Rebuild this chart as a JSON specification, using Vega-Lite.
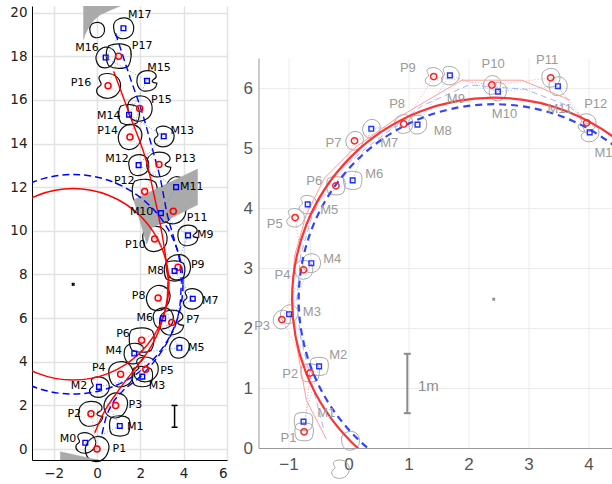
{
  "$schema": "https://vega.github.io/schema/vega-lite/v6.json",
  "padding": {"left": 9, "top": 5, "right": 0, "bottom": 0},
  "spacing": 15.5,
  "config": {"view": {"stroke": null}, "font": "DejaVu Sans"},
  "resolve": {"scale": {"x": "independent", "y": "independent", "size": "independent", "shape": "independent"}},
  "datasets": {
    "L": [
      {"id": "P1", "type": "P", "n": 1, "x": 0, "y": 0, "lx": 1.03, "ly": 0},
      {"id": "P2", "type": "P", "n": 2, "x": -0.28, "y": 1.62, "lx": -1.05, "ly": 1.62},
      {"id": "P3", "type": "P", "n": 3, "x": 0.86, "y": 2.0, "lx": 1.77, "ly": 2.0},
      {"id": "P4", "type": "P", "n": 4, "x": 1.09, "y": 3.43, "lx": 0.08, "ly": 3.7},
      {"id": "P5", "type": "P", "n": 5, "x": 2.25, "y": 3.66, "lx": 3.23, "ly": 3.6},
      {"id": "P6", "type": "P", "n": 6, "x": 2.06, "y": 4.99, "lx": 1.2, "ly": 5.27},
      {"id": "P7", "type": "P", "n": 7, "x": 3.45, "y": 5.8, "lx": 4.43, "ly": 5.9},
      {"id": "P8", "type": "P", "n": 8, "x": 2.82, "y": 6.92, "lx": 1.92, "ly": 7.0},
      {"id": "P9", "type": "P", "n": 9, "x": 3.74, "y": 8.33, "lx": 4.65, "ly": 8.42},
      {"id": "P10", "type": "P", "n": 10, "x": 2.66, "y": 9.63, "lx": 1.77, "ly": 9.34},
      {"id": "P11", "type": "P", "n": 11, "x": 3.52, "y": 10.9, "lx": 4.62, "ly": 10.58},
      {"id": "P12", "type": "P", "n": 12, "x": 2.2, "y": 11.8, "lx": 1.26, "ly": 12.28},
      {"id": "P13", "type": "P", "n": 13, "x": 2.86, "y": 13.04, "lx": 4.08, "ly": 13.27},
      {"id": "P14", "type": "P", "n": 14, "x": 1.52, "y": 14.3, "lx": 0.49, "ly": 14.59},
      {"id": "P15", "type": "P", "n": 15, "x": 1.97, "y": 15.6, "lx": 2.97, "ly": 16.0},
      {"id": "P16", "type": "P", "n": 16, "x": 0.51, "y": 16.65, "lx": -0.74, "ly": 16.77},
      {"id": "P17", "type": "P", "n": 17, "x": 1.0, "y": 18.0, "lx": 2.08, "ly": 18.46},
      {"id": "M0", "type": "M", "n": 0, "x": -0.54, "y": 0.29, "lx": -1.34, "ly": 0.46},
      {"id": "M1", "type": "M", "n": 1, "x": 1.05, "y": 1.06, "lx": 1.77, "ly": 1.01},
      {"id": "M2", "type": "M", "n": 2, "x": 0.09, "y": 2.85, "lx": -0.83, "ly": 2.89},
      {"id": "M3", "type": "M", "n": 3, "x": 2.09, "y": 3.32, "lx": 2.77, "ly": 2.91},
      {"id": "M4", "type": "M", "n": 4, "x": 1.72, "y": 4.38, "lx": 0.77, "ly": 4.49},
      {"id": "M5", "type": "M", "n": 5, "x": 3.8, "y": 4.64, "lx": 4.58, "ly": 4.61},
      {"id": "M6", "type": "M", "n": 6, "x": 3.05, "y": 5.99, "lx": 2.2, "ly": 5.99},
      {"id": "M7", "type": "M", "n": 7, "x": 4.42, "y": 6.89, "lx": 5.23, "ly": 6.8},
      {"id": "M8", "type": "M", "n": 8, "x": 3.58, "y": 8.16, "lx": 2.71, "ly": 8.18},
      {"id": "M9", "type": "M", "n": 9, "x": 4.2, "y": 9.79, "lx": 5.0, "ly": 9.8},
      {"id": "M10", "type": "M", "n": 10, "x": 2.95, "y": 10.81, "lx": 2.06, "ly": 10.86},
      {"id": "M11", "type": "M", "n": 11, "x": 3.65, "y": 12.0, "lx": 4.37, "ly": 11.99},
      {"id": "M12", "type": "M", "n": 12, "x": 1.92, "y": 13.01, "lx": 0.92, "ly": 13.27},
      {"id": "M13", "type": "M", "n": 13, "x": 3.08, "y": 14.33, "lx": 3.94, "ly": 14.59},
      {"id": "M14", "type": "M", "n": 14, "x": 1.48, "y": 15.32, "lx": 0.54, "ly": 15.26},
      {"id": "M15", "type": "M", "n": 15, "x": 2.31, "y": 16.87, "lx": 2.86, "ly": 17.46},
      {"id": "M16", "type": "M", "n": 16, "x": 0.4, "y": 17.94, "lx": -0.46, "ly": 18.38},
      {"id": "M17", "type": "M", "n": 17, "x": 1.22, "y": 19.28, "lx": 1.97, "ly": 19.88},
      {"id": "B0", "type": "B", "n": 0, "x": 0.0, "y": 19.2}
    ],
    "LG": [
      {"poly": "a", "i": 0, "x": -0.62, "y": 20.3},
      {"poly": "a", "i": 1, "x": 1.08, "y": 20.3},
      {"poly": "a", "i": 2, "x": 0.6, "y": 20.1},
      {"poly": "a", "i": 3, "x": 0.15, "y": 19.9},
      {"poly": "a", "i": 4, "x": -0.15, "y": 19.65},
      {"poly": "a", "i": 5, "x": -0.39, "y": 19.3},
      {"poly": "a", "i": 6, "x": -0.55, "y": 19.0},
      {"poly": "a", "i": 7, "x": -0.62, "y": 18.76},
      {"poly": "b", "i": 0, "x": 1.69, "y": 11.42},
      {"poly": "b", "i": 1, "x": 4.64, "y": 12.83},
      {"poly": "b", "i": 2, "x": 4.64, "y": 11.19},
      {"poly": "b", "i": 3, "x": 2.55, "y": 10.15},
      {"poly": "b", "i": 4, "x": 2.3, "y": 9.4},
      {"poly": "c", "i": 0, "x": -1.69, "y": -0.12},
      {"poly": "c", "i": 1, "x": 0.05, "y": -0.5},
      {"poly": "c", "i": 2, "x": -1.69, "y": -0.5}
    ],
    "LT": [
      {"s": "P", "i": 0, "x": -0.1, "y": 0.75},
      {"s": "P", "i": 1, "x": 0.15, "y": 1.33},
      {"s": "P", "i": 2, "x": 0.38, "y": 1.79},
      {"s": "P", "i": 3, "x": 0.8, "y": 2.42},
      {"s": "P", "i": 4, "x": 1.23, "y": 3.01},
      {"s": "P", "i": 5, "x": 2.0, "y": 4.0},
      {"s": "P", "i": 6, "x": 2.55, "y": 4.8},
      {"s": "P", "i": 7, "x": 2.9, "y": 5.55},
      {"s": "P", "i": 8, "x": 3.12, "y": 6.3},
      {"s": "P", "i": 9, "x": 3.25, "y": 7.0},
      {"s": "P", "i": 10, "x": 3.28, "y": 7.8},
      {"s": "P", "i": 11, "x": 3.2, "y": 8.55},
      {"s": "P", "i": 12, "x": 3.07, "y": 9.45},
      {"s": "P", "i": 13, "x": 2.85, "y": 10.65},
      {"s": "P", "i": 14, "x": 2.62, "y": 11.7},
      {"s": "P", "i": 15, "x": 2.38, "y": 12.8},
      {"s": "P", "i": 16, "x": 1.55, "y": 15.2},
      {"s": "P", "i": 17, "x": 0.77, "y": 17.3},
      {"s": "M", "i": 0, "x": 0.23, "y": 0.69},
      {"s": "M", "i": 1, "x": 0.42, "y": 1.45},
      {"s": "M", "i": 2, "x": 0.65, "y": 1.98},
      {"s": "M", "i": 3, "x": 1.15, "y": 2.62},
      {"s": "M", "i": 4, "x": 2.0, "y": 3.32},
      {"s": "M", "i": 5, "x": 2.92, "y": 4.39},
      {"s": "M", "i": 6, "x": 3.4, "y": 5.2},
      {"s": "M", "i": 7, "x": 3.69, "y": 5.92},
      {"s": "M", "i": 8, "x": 3.85, "y": 6.8},
      {"s": "M", "i": 9, "x": 3.9, "y": 7.6},
      {"s": "M", "i": 10, "x": 3.84, "y": 8.4},
      {"s": "M", "i": 11, "x": 3.61, "y": 9.43},
      {"s": "M", "i": 12, "x": 3.23, "y": 10.81},
      {"s": "M", "i": 13, "x": 2.92, "y": 12.4},
      {"s": "M", "i": 14, "x": 2.61, "y": 13.56},
      {"s": "M", "i": 15, "x": 2.15, "y": 15.2},
      {"s": "M", "i": 16, "x": 1.5, "y": 17.1},
      {"s": "M", "i": 17, "x": 0.85, "y": 19.07}
    ],
    "LC": [{"x": -1.1, "y": 7.55}],
    "LS": [{"x": 3.58, "y": 1.0, "y2": 2.0}],
    "R": [
      {"id": "P1", "type": "P", "n": 1, "x": -0.74, "y": 0.27, "lx": -1.0, "ly": 0.17},
      {"id": "P2", "type": "P", "n": 2, "x": -0.64, "y": 1.25, "lx": -0.97, "ly": 1.23},
      {"id": "P3", "type": "P", "n": 3, "x": -1.11, "y": 2.14, "lx": -1.44, "ly": 2.04},
      {"id": "P4", "type": "P", "n": 4, "x": -0.75, "y": 2.97, "lx": -1.1, "ly": 2.88},
      {"id": "P5", "type": "P", "n": 5, "x": -0.89, "y": 3.84, "lx": -1.23, "ly": 3.73},
      {"id": "P6", "type": "P", "n": 6, "x": -0.21, "y": 4.37, "lx": -0.57, "ly": 4.45},
      {"id": "P7", "type": "P", "n": 7, "x": 0.1, "y": 5.12, "lx": -0.25, "ly": 5.08},
      {"id": "P8", "type": "P", "n": 8, "x": 0.92, "y": 5.4, "lx": 0.81, "ly": 5.73},
      {"id": "P9", "type": "P", "n": 9, "x": 1.42, "y": 6.19, "lx": 0.99, "ly": 6.34},
      {"id": "P10", "type": "P", "n": 10, "x": 2.39, "y": 6.05, "lx": 2.41, "ly": 6.4},
      {"id": "P11", "type": "P", "n": 11, "x": 3.37, "y": 6.17, "lx": 3.31, "ly": 6.47},
      {"id": "P12", "type": "P", "n": 12, "x": 3.97, "y": 5.42, "lx": 4.12, "ly": 5.74},
      {"id": "M1", "type": "M", "n": 1, "x": -0.75, "y": 0.44, "lx": -0.37, "ly": 0.59},
      {"id": "M2", "type": "M", "n": 2, "x": -0.49, "y": 1.36, "lx": -0.17, "ly": 1.55},
      {"id": "M3", "type": "M", "n": 3, "x": -0.99, "y": 2.23, "lx": -0.61, "ly": 2.27},
      {"id": "M4", "type": "M", "n": 4, "x": -0.62, "y": 3.08, "lx": -0.27, "ly": 3.15},
      {"id": "M5", "type": "M", "n": 5, "x": -0.68, "y": 4.06, "lx": -0.32, "ly": 3.96},
      {"id": "M6", "type": "M", "n": 6, "x": 0.07, "y": 4.46, "lx": 0.43, "ly": 4.56},
      {"id": "M7", "type": "M", "n": 7, "x": 0.38, "y": 5.32, "lx": 0.68, "ly": 5.08},
      {"id": "M8", "type": "M", "n": 8, "x": 1.15, "y": 5.39, "lx": 1.57, "ly": 5.28},
      {"id": "M9", "type": "M", "n": 9, "x": 1.69, "y": 6.21, "lx": 1.79, "ly": 5.81},
      {"id": "M10", "type": "M", "n": 10, "x": 2.49, "y": 5.94, "lx": 2.6, "ly": 5.57},
      {"id": "M11", "type": "M", "n": 11, "x": 3.49, "y": 6.03, "lx": 3.52, "ly": 5.65},
      {"id": "M12", "type": "M", "n": 12, "x": 4.02, "y": 5.26, "lx": 4.31, "ly": 4.91},
      {"id": "B1", "type": "B", "n": 0, "x": 0.03, "y": 0.12},
      {"id": "B2", "type": "B", "n": 0, "x": -0.14, "y": -0.35}
    ],
    "RT": [
      {"s": "P", "i": 0, "x": -0.37, "y": 0.15},
      {"s": "P", "i": 1, "x": -0.7, "y": 0.79},
      {"s": "P", "i": 2, "x": -0.86, "y": 1.68},
      {"s": "P", "i": 3, "x": -0.95, "y": 2.46},
      {"s": "P", "i": 4, "x": -0.9, "y": 3.2},
      {"s": "P", "i": 5, "x": -0.7, "y": 3.9},
      {"s": "P", "i": 6, "x": -0.4, "y": 4.5},
      {"s": "P", "i": 7, "x": 0.1, "y": 5.0},
      {"s": "P", "i": 8, "x": 0.78, "y": 5.48},
      {"s": "P", "i": 9, "x": 1.89, "y": 6.13},
      {"s": "P", "i": 10, "x": 2.89, "y": 6.13},
      {"s": "P", "i": 11, "x": 3.69, "y": 5.8},
      {"s": "M", "i": 0, "x": -0.42, "y": 0.34},
      {"s": "M", "i": 1, "x": -0.61, "y": 1.07},
      {"s": "M", "i": 2, "x": -0.81, "y": 1.9},
      {"s": "M", "i": 3, "x": -0.86, "y": 2.46},
      {"s": "M", "i": 4, "x": -0.8, "y": 3.2},
      {"s": "M", "i": 5, "x": -0.6, "y": 3.9},
      {"s": "M", "i": 6, "x": -0.3, "y": 4.5},
      {"s": "M", "i": 7, "x": 0.3, "y": 5.0},
      {"s": "M", "i": 8, "x": 1.22, "y": 5.7},
      {"s": "M", "i": 9, "x": 2.0, "y": 6.05},
      {"s": "M", "i": 10, "x": 2.94, "y": 5.98},
      {"s": "M", "i": 11, "x": 3.67, "y": 5.7},
      {"s": "M", "i": 12, "x": 4.11, "y": 5.34}
    ],
    "RC": [{"x": 2.42, "y": 2.48}],
    "RS": [{"x": 0.98, "y": 0.58, "y2": 1.57, "t": "1m", "lx": 1.33, "ly": 1.04}]
  },
  "hconcat": [
    {
      "width": 195,
      "height": 454,
      "layer": [
        {
          "data": {"name": "L"},
          "mark": {"type": "point", "filled": false, "color": "#111", "strokeWidth": 1.2, "opacity": 1},
          "encoding": {
            "x": {"field": "x", "type": "quantitative", "scale": {"domain": [-3, 6], "nice": false, "zero": false},
              "axis": {"title": null, "values": [-2, 0, 2, 4, 6], "format": "~g", "grid": true, "gridColor": "#e2e2e2", "gridWidth": 1.5, "ticks": false, "domainColor": "#000", "labelFont": "DejaVu Sans", "labelFontSize": 13.5, "labelColor": "#222", "labelPadding": 6}},
            "y": {"field": "y", "type": "quantitative", "scale": {"domain": [-0.5, 20.3], "nice": false, "zero": false},
              "axis": {"title": null, "values": [0, 2, 4, 6, 8, 10, 12, 14, 16, 18, 20], "format": "~g", "grid": true, "gridColor": "#e2e2e2", "gridWidth": 1.5, "ticks": false, "domainColor": "#000", "labelFont": "DejaVu Sans", "labelFontSize": 13.5, "labelColor": "#222", "labelPadding": 5}},
            "shape": {"field": "id", "type": "nominal", "legend": null, "scale": {"range": [
              "M-0.85,-0.1C-0.9,-0.65,-0.35,-0.95,0.15,-0.9C0.7,-0.85,0.95,-0.35,0.88,0.15C0.8,0.7,0.3,0.95,-0.2,0.9C-0.65,0.85,-0.82,0.4,-0.85,-0.1Z",
              "M-0.45,-0.8C0.1,-1,0.75,-0.75,0.88,-0.2C0.98,0.35,0.6,0.85,0.05,0.9C-0.5,0.95,-0.9,0.6,-0.8,0.25C-0.7,0,-0.45,0.05,-0.5,-0.15C-0.55,-0.35,-0.85,-0.6,-0.45,-0.8Z",
              "M-0.7,-0.75C-0.25,-0.95,0.45,-0.92,0.78,-0.65C0.98,-0.3,0.9,0.35,0.7,0.7C0.35,0.95,-0.35,0.92,-0.7,0.7C-0.95,0.35,-0.95,-0.5,-0.7,-0.75Z",
              "M0.85,0.2C0.8,0.75,0.2,0.95,-0.3,0.88C-0.8,0.75,-0.95,0.2,-0.85,-0.3C-0.7,-0.85,-0.1,-0.95,0.35,-0.85C0.8,-0.7,0.95,-0.35,0.6,-0.15C0.35,0,0.35,0.15,0.85,0.2Z",
              "M-0.8,0.3C-0.95,-0.2,-0.6,-0.8,-0.05,-0.9C0.5,-0.95,0.92,-0.55,0.85,-0.05C0.78,0.5,0.4,0.92,-0.1,0.9C-0.5,0.88,-0.72,0.6,-0.8,0.3Z"
            ]}},
            "size": {"field": "type", "type": "ordinal", "legend": null, "scale": {"domain": ["P", "M", "B"], "range": [780, 290, 450]}}
          }
        },
        {
          "data": {"name": "LG"},
          "mark": {"type": "line", "interpolate": "linear-closed", "fill": "#aaaaaa", "stroke": "#aaaaaa", "strokeWidth": 0.5, "clip": true},
          "encoding": {
            "x": {"field": "x", "type": "quantitative"},
            "y": {"field": "y", "type": "quantitative"},
            "detail": {"field": "poly"},
            "order": {"field": "i", "type": "quantitative"}
          }
        },
        {
          "data": {"name": "LC"},
          "mark": {"type": "point", "shape": "circle", "filled": false, "size": 36710, "color": "#ff0000", "strokeWidth": 1.5, "opacity": 1, "clip": true},
          "encoding": {"x": {"field": "x", "type": "quantitative"}, "y": {"field": "y", "type": "quantitative"}}
        },
        {
          "data": {"name": "LC"},
          "mark": {"type": "point", "shape": "circle", "filled": false, "size": 48224, "color": "#0000ff", "strokeWidth": 1.5, "strokeDash": [7, 4], "opacity": 1, "clip": true},
          "encoding": {"x": {"field": "x", "type": "quantitative"}, "y": {"field": "y", "type": "quantitative"}}
        },
        {
          "data": {"name": "L"},
          "transform": [{"filter": "datum.type == 'P'"}],
          "mark": {"type": "line", "color": "#ff8a8a", "strokeWidth": 1, "strokeDash": [1, 2]},
          "encoding": {"x": {"field": "x", "type": "quantitative"}, "y": {"field": "y", "type": "quantitative"}, "order": {"field": "n", "type": "quantitative"}}
        },
        {
          "data": {"name": "L"},
          "transform": [{"filter": "datum.type == 'M'"}],
          "mark": {"type": "line", "color": "#4da3ff", "strokeWidth": 1, "strokeDash": [1, 2]},
          "encoding": {"x": {"field": "x", "type": "quantitative"}, "y": {"field": "y", "type": "quantitative"}, "order": {"field": "n", "type": "quantitative"}}
        },
        {
          "data": {"name": "LT"},
          "transform": [{"filter": "datum.s == 'P'"}],
          "mark": {"type": "line", "color": "#ff0000", "strokeWidth": 1.4, "interpolate": "monotone"},
          "encoding": {"x": {"field": "x", "type": "quantitative"}, "y": {"field": "y", "type": "quantitative"}, "order": {"field": "i", "type": "quantitative"}}
        },
        {
          "data": {"name": "LT"},
          "transform": [{"filter": "datum.s == 'M'"}],
          "mark": {"type": "line", "color": "#0000ff", "strokeWidth": 1.4, "strokeDash": [7, 4], "interpolate": "monotone"},
          "encoding": {"x": {"field": "x", "type": "quantitative"}, "y": {"field": "y", "type": "quantitative"}, "order": {"field": "i", "type": "quantitative"}}
        },
        {
          "data": {"name": "L"},
          "transform": [{"filter": "datum.type == 'P'"}],
          "mark": {"type": "point", "shape": "circle", "filled": false, "size": 36, "color": "#ff0000", "strokeWidth": 1.5, "opacity": 1},
          "encoding": {"x": {"field": "x", "type": "quantitative"}, "y": {"field": "y", "type": "quantitative"}}
        },
        {
          "data": {"name": "L"},
          "transform": [{"filter": "datum.type == 'M'"}],
          "mark": {"type": "point", "shape": "square", "filled": false, "size": 22, "color": "#0000ff", "strokeWidth": 1.4, "opacity": 1},
          "encoding": {"x": {"field": "x", "type": "quantitative"}, "y": {"field": "y", "type": "quantitative"}}
        },
        {
          "data": {"name": "LC"},
          "mark": {"type": "point", "shape": "cross", "angle": 45, "filled": true, "size": 14, "color": "#000", "opacity": 1},
          "encoding": {"x": {"field": "x", "type": "quantitative"}, "y": {"field": "y", "type": "quantitative"}}
        },
        {
          "data": {"name": "LS"},
          "mark": {"type": "rule", "color": "#000", "strokeWidth": 1.5},
          "encoding": {"x": {"field": "x", "type": "quantitative"}, "y": {"field": "y", "type": "quantitative"}, "y2": {"field": "y2"}}
        },
        {
          "data": {"name": "LS"},
          "mark": {"type": "tick", "orient": "horizontal", "color": "#000", "size": 6, "thickness": 1.5, "opacity": 1},
          "encoding": {"x": {"field": "x", "type": "quantitative"}, "y": {"field": "y", "type": "quantitative"}}
        },
        {
          "data": {"name": "LS"},
          "mark": {"type": "tick", "orient": "horizontal", "color": "#000", "size": 6, "thickness": 1.5, "opacity": 1},
          "encoding": {"x": {"field": "x", "type": "quantitative"}, "y": {"field": "y2", "type": "quantitative"}}
        },
        {
          "data": {"name": "L"},
          "transform": [{"filter": "datum.type != 'B'"}],
          "mark": {"type": "text", "font": "DejaVu Sans", "fontSize": 11, "color": "#000", "align": "center", "baseline": "middle"},
          "encoding": {
            "x": {"field": "lx", "type": "quantitative"},
            "y": {"field": "ly", "type": "quantitative"},
            "text": {"field": "id"}
          }
        }
      ]
    },
    {
      "spacing": 14,
      "vconcat": [
        {
          "width": 360,
          "height": 33,
          "data": {"values": []},
          "mark": "point"
        },
        {
          "width": 360,
          "height": 390,
          "layer": [
            {
              "data": {"name": "R"},
              "mark": {"type": "point", "filled": false, "color": "#a8a8a8", "strokeWidth": 1, "opacity": 1},
              "encoding": {
                "x": {"field": "x", "type": "quantitative", "scale": {"domain": [-1.5, 4.5], "nice": false, "zero": false},
                  "axis": {"title": null, "values": [-1, 0, 1, 2, 3, 4], "format": "~g", "grid": true, "gridColor": "#ececec", "ticks": false, "domainColor": "#999", "labelFont": "Liberation Sans", "labelFontSize": 17, "labelColor": "#555", "labelPadding": 8}},
                "y": {"field": "y", "type": "quantitative", "scale": {"domain": [0, 6.5], "nice": false, "zero": false},
                  "axis": {"title": null, "values": [0, 1, 2, 3, 4, 5, 6], "format": "~g", "grid": true, "gridColor": "#ececec", "ticks": false, "domainColor": "#999", "labelFont": "Liberation Sans", "labelFontSize": 17, "labelColor": "#555", "labelPadding": 6}},
                "shape": {"field": "id", "type": "nominal", "legend": null, "scale": {"range": [
                  "M-0.85,-0.1C-0.9,-0.65,-0.35,-0.95,0.15,-0.9C0.7,-0.85,0.95,-0.35,0.88,0.15C0.8,0.7,0.3,0.95,-0.2,0.9C-0.65,0.85,-0.82,0.4,-0.85,-0.1Z",
                  "M-0.45,-0.8C0.1,-1,0.75,-0.75,0.88,-0.2C0.98,0.35,0.6,0.85,0.05,0.9C-0.5,0.95,-0.9,0.6,-0.8,0.25C-0.7,0,-0.45,0.05,-0.5,-0.15C-0.55,-0.35,-0.85,-0.6,-0.45,-0.8Z",
                  "M-0.7,-0.75C-0.25,-0.95,0.45,-0.92,0.78,-0.65C0.98,-0.3,0.9,0.35,0.7,0.7C0.35,0.95,-0.35,0.92,-0.7,0.7C-0.95,0.35,-0.95,-0.5,-0.7,-0.75Z",
                  "M-0.8,0.3C-0.95,-0.2,-0.6,-0.8,-0.05,-0.9C0.5,-0.95,0.92,-0.55,0.85,-0.05C0.78,0.5,0.4,0.92,-0.1,0.9C-0.5,0.88,-0.72,0.6,-0.8,0.3Z"
                ]}},
                "size": {"field": "type", "type": "ordinal", "legend": null, "scale": {"domain": ["P", "M", "B"], "range": [430, 430, 520]}}
              }
            },
            {
              "data": {"name": "R"},
              "transform": [{"filter": "datum.type == 'P'"}],
              "mark": {"type": "line", "color": "#ffaaaa", "strokeWidth": 1, "strokeDash": [1, 2]},
              "encoding": {"x": {"field": "x", "type": "quantitative"}, "y": {"field": "y", "type": "quantitative"}, "order": {"field": "n", "type": "quantitative"}}
            },
            {
              "data": {"name": "R"},
              "transform": [{"filter": "datum.type == 'M'"}],
              "mark": {"type": "line", "color": "#9fc4ff", "strokeWidth": 1, "strokeDash": [1, 2]},
              "encoding": {"x": {"field": "x", "type": "quantitative"}, "y": {"field": "y", "type": "quantitative"}, "order": {"field": "n", "type": "quantitative"}}
            },
            {
              "data": {"name": "RT"},
              "transform": [{"filter": "datum.s == 'P'"}],
              "mark": {"type": "line", "color": "#ff9d9d", "strokeWidth": 1},
              "encoding": {"x": {"field": "x", "type": "quantitative"}, "y": {"field": "y", "type": "quantitative"}, "order": {"field": "i", "type": "quantitative"}}
            },
            {
              "data": {"name": "RT"},
              "transform": [{"filter": "datum.s == 'M'"}],
              "mark": {"type": "line", "color": "#a3b4ff", "strokeWidth": 1, "strokeDash": [6, 4]},
              "encoding": {"x": {"field": "x", "type": "quantitative"}, "y": {"field": "y", "type": "quantitative"}, "order": {"field": "i", "type": "quantitative"}}
            },
            {
              "data": {"name": "RC"},
              "mark": {"type": "point", "shape": "circle", "filled": false, "size": 162570, "color": "#ff3333", "strokeWidth": 2.2, "opacity": 1, "clip": true},
              "encoding": {"x": {"field": "x", "type": "quantitative"}, "y": {"field": "y", "type": "quantitative"}}
            },
            {
              "data": {"name": "RC"},
              "mark": {"type": "point", "shape": "circle", "filled": false, "size": 152100, "color": "#3344ff", "strokeWidth": 2.2, "strokeDash": [7, 5], "opacity": 1, "clip": true},
              "encoding": {"x": {"field": "x", "type": "quantitative"}, "y": {"field": "y", "type": "quantitative"}}
            },
            {
              "data": {"name": "R"},
              "transform": [{"filter": "datum.type == 'P'"}],
              "mark": {"type": "point", "shape": "circle", "filled": false, "size": 40, "color": "#ff2222", "strokeWidth": 1.5, "opacity": 1},
              "encoding": {"x": {"field": "x", "type": "quantitative"}, "y": {"field": "y", "type": "quantitative"}}
            },
            {
              "data": {"name": "R"},
              "transform": [{"filter": "datum.type == 'M'"}],
              "mark": {"type": "point", "shape": "square", "filled": false, "size": 22, "color": "#2233ff", "strokeWidth": 1.4, "opacity": 1},
              "encoding": {"x": {"field": "x", "type": "quantitative"}, "y": {"field": "y", "type": "quantitative"}}
            },
            {
              "data": {"name": "RC"},
              "mark": {"type": "point", "shape": "cross", "angle": 45, "filled": true, "size": 12, "color": "#888", "opacity": 1},
              "encoding": {"x": {"field": "x", "type": "quantitative"}, "y": {"field": "y", "type": "quantitative"}}
            },
            {
              "data": {"name": "RS"},
              "mark": {"type": "rule", "color": "#8c8c8c", "strokeWidth": 2},
              "encoding": {"x": {"field": "x", "type": "quantitative"}, "y": {"field": "y", "type": "quantitative"}, "y2": {"field": "y2"}}
            },
            {
              "data": {"name": "RS"},
              "mark": {"type": "tick", "orient": "horizontal", "color": "#8c8c8c", "size": 7, "thickness": 2, "opacity": 1},
              "encoding": {"x": {"field": "x", "type": "quantitative"}, "y": {"field": "y", "type": "quantitative"}}
            },
            {
              "data": {"name": "RS"},
              "mark": {"type": "tick", "orient": "horizontal", "color": "#8c8c8c", "size": 7, "thickness": 2, "opacity": 1},
              "encoding": {"x": {"field": "x", "type": "quantitative"}, "y": {"field": "y2", "type": "quantitative"}}
            },
            {
              "data": {"name": "RS"},
              "mark": {"type": "text", "font": "Liberation Sans", "fontSize": 15, "color": "#8c8c8c", "align": "center", "baseline": "middle"},
              "encoding": {
                "x": {"field": "lx", "type": "quantitative"},
                "y": {"field": "ly", "type": "quantitative"},
                "text": {"field": "t"}
              }
            },
            {
              "data": {"name": "R"},
              "transform": [{"filter": "datum.type != 'B'"}],
              "mark": {"type": "text", "font": "Liberation Sans", "fontSize": 13, "color": "#9a9a9a", "align": "center", "baseline": "middle"},
              "encoding": {
                "x": {"field": "lx", "type": "quantitative"},
                "y": {"field": "ly", "type": "quantitative"},
                "text": {"field": "id"}
              }
            }
          ]
        }
      ]
    }
  ]
}
